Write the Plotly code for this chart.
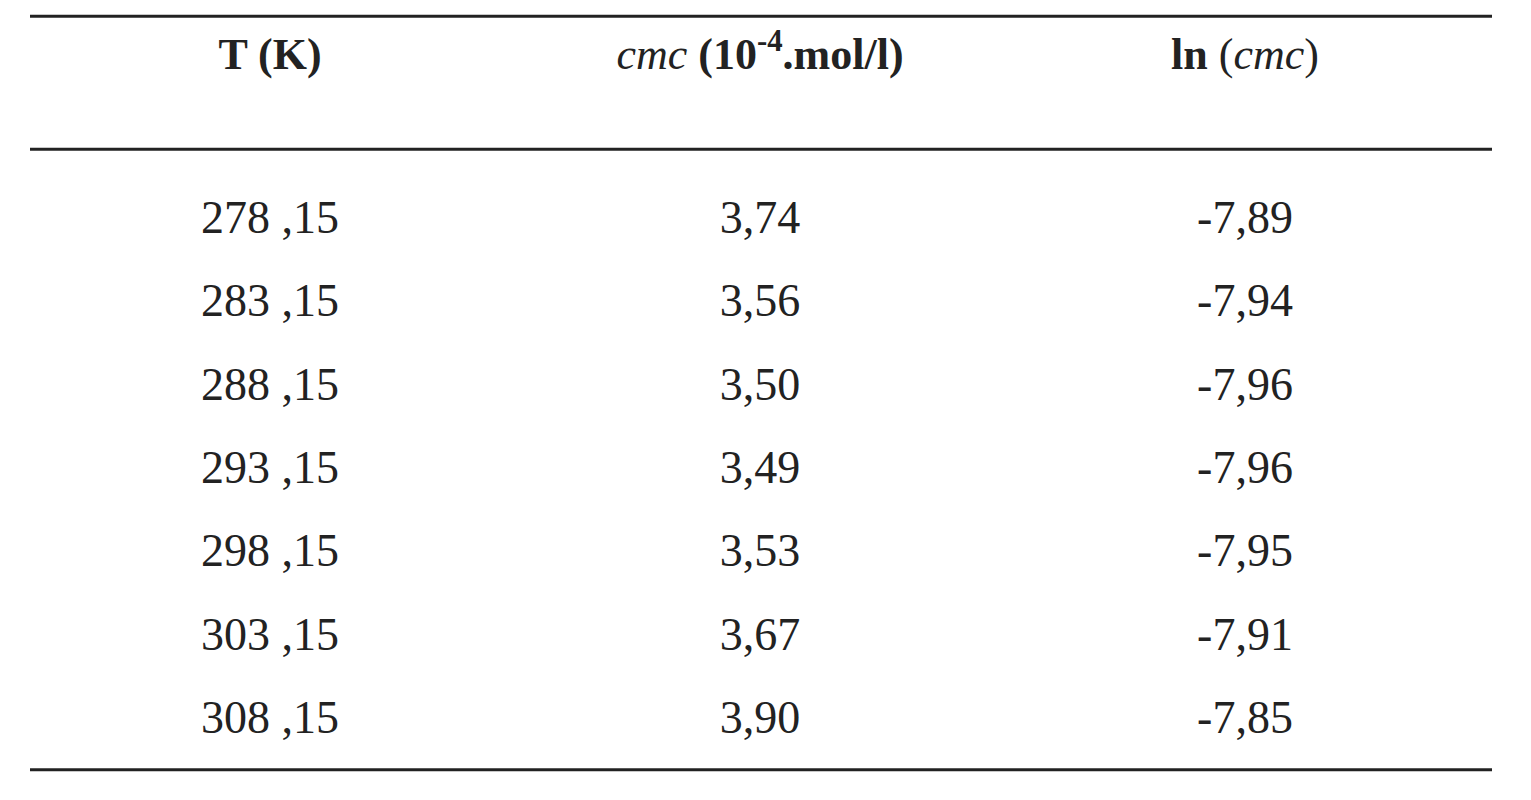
import plotly.graph_objects as go

headers = ["<b>T (K)</b>", "<i>cmc</i> <b>(10<sup>-4</sup>.mol/l)</b>", "<b>ln</b> (<i>cmc</i>)"]
temperature = ["278 ,15", "283 ,15", "288 ,15", "293 ,15", "298 ,15", "303 ,15", "308 ,15"]
cmc = ["3,74", "3,56", "3,50", "3,49", "3,53", "3,67", "3,90"]
ln_cmc = ["-7,89", "-7,94", "-7,96", "-7,96", "-7,95", "-7,91", "-7,85"]

col_x = [270, 760, 1245]
rows = list(range(len(temperature)))
font = "Liberation Serif, Times New Roman, serif"

fig = go.Figure()
for cx, col in zip(col_x, [temperature, cmc, ln_cmc]):
    fig.add_trace(go.Scatter(x=[cx] * len(col), y=rows, text=col, mode="text",
                             textfont=dict(family=font, size=46, color="#222"),
                             hoverinfo="skip", showlegend=False))
fig.add_trace(go.Scatter(x=col_x, y=[-1.96] * 3, text=headers, mode="text",
                         textfont=dict(family=font, size=44, color="#222"),
                         hoverinfo="skip", showlegend=False))

for yl in [-2.46, -0.864, 6.58]:
    fig.add_shape(type="line", x0=30, x1=1492, y0=yl, y1=yl,
                  line=dict(color="#222", width=3))

fig.update_xaxes(range=[8, 1539], visible=False)
fig.update_yaxes(range=[7.04, -2.56], visible=False)
fig.update_layout(width=1531, height=800, margin=dict(l=0, r=0, t=0, b=0),
                  plot_bgcolor="white", paper_bgcolor="white")
fig.write_html("out.html")
